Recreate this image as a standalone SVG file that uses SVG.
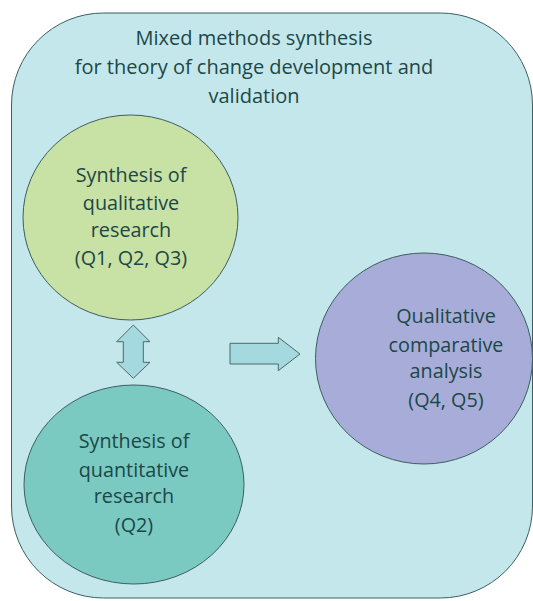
<svg xmlns="http://www.w3.org/2000/svg" width="533" height="601" viewBox="0 0 533 601">
<style>
text{font-family:"Open Sans","Noto Sans",sans-serif;fill:#1c4747;text-anchor:middle}
.t{font-size:20px}
.n{font-size:19.8px}
.sh{stroke:#3d5e60;stroke-width:1}
.ar{fill:#a3d9df;stroke:#4b6a6c;stroke-width:1}
</style>
<rect width="533" height="601" fill="#ffffff"/>
<g id="frame">
<rect x="11.5" y="13" width="521" height="585" rx="92" ry="92" fill="#c4e7eb" class="sh" stroke="#40605f"/>
<text class="t" x="254" y="45">Mixed methods synthesis</text>
<text class="t" x="254" y="74">for theory of change development and</text>
<text class="t" x="254" y="103">validation</text>
</g>
<g id="qual">
<ellipse cx="130.5" cy="217.5" rx="107.5" ry="102.5" fill="#c8e1a4" class="sh"/>
<text class="n" x="131" y="182">Synthesis of</text>
<text class="n" x="131" y="210">qualitative</text>
<text class="n" x="131" y="237">research</text>
<text class="n" x="131" y="265">(Q1, Q2, Q3)</text>
</g>
<g id="quant">
<ellipse cx="134" cy="484.5" rx="110" ry="99.5" fill="#7acac1" class="sh"/>
<text class="n" x="134" y="448">Synthesis of</text>
<text class="n" x="134" y="476.5">quantitative</text>
<text class="n" x="134" y="503">research</text>
<text class="n" x="134" y="531.5">(Q2)</text>
</g>
<g id="qca">
<ellipse cx="424" cy="358.5" rx="108.5" ry="105.5" fill="#a7add8" class="sh"/>
<text class="n" x="446" y="323">Qualitative</text>
<text class="n" x="446" y="351.5">comparative</text>
<text class="n" x="446" y="378">analysis</text>
<text class="n" x="446" y="406.5">(Q4, Q5)</text>
</g>
<g id="connectors">
<path class="ar" d="M133.3,325 L150,341.7 L143.3,341.7 L143.3,362.3 L150,362.3 L133.3,378.3 L116.7,362.3 L123.3,362.3 L123.3,341.7 L116.7,341.7 Z"/>
<path class="ar" d="M230,343.3 L278.3,343.3 L278.3,337.3 L300,354 L278.3,370.7 L278.3,364 L230,364 Z"/>
</g>
</svg>
